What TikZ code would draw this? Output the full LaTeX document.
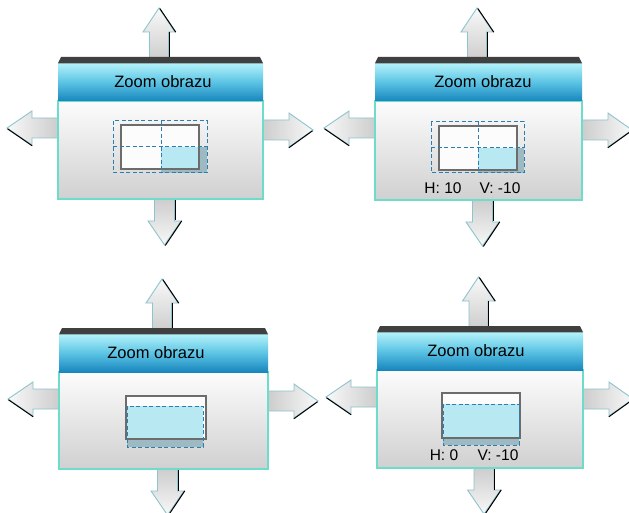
\documentclass[tikz,border=0pt]{standalone}
\usepackage{fontspec}
\setmainfont{Liberation Sans}
\definecolor{hdrtop}{HTML}{B4F2FA}
\definecolor{hdrmid}{HTML}{5CC4E4}
\definecolor{hdrbot}{HTML}{1886BE}
\definecolor{paneledge}{HTML}{6EDCCB}
\definecolor{arredge}{HTML}{8CC4D0}
\definecolor{dashcol}{HTML}{2C7EAE}
\definecolor{lblue}{HTML}{B8E8F2}
\definecolor{dblue}{HTML}{9DB9C2}
\definecolor{barcol}{HTML}{404040}
\tikzset{
  arrline/.style={draw=arredge, line width=0.9pt},
  shadowline/.style={draw=black, line width=1pt},
  panelbody/.style={draw=paneledge, line width=1.2pt, top color=gray!2, bottom color=gray!37},
  header/.style={top color=hdrtop, bottom color=hdrbot, middle color=hdrmid},
  solidbox/.style={draw=gray!85!black, line width=1.4pt},
  dashbox/.style={draw=dashcol, line width=1pt, dash pattern=on 4pt off 2.5pt},
  titletext/.style={font=\fontsize{16.5}{18}\selectfont, text=black},
  valtext/.style={font=\fontsize{15.5}{17}\selectfont, text=black},
}
% up arrow: cx, base y, tip y
\newcommand\uarrow[3]{%
  \path[arrline, top color=gray!5, bottom color=gray!40] (#1-9.5,#2) -- (#1-9.5,#3+24) -- (#1-16,#3+24) -- (#1,#3) -- (#1+16,#3+24) -- (#1+9.5,#3+24) -- (#1+9.5,#2);
  \draw[shadowline] (#1+0.8,#3+0.5) -- (#1+16.8,#3+24.2);
  \draw[shadowline] (#1+10.4,#3+24) -- (#1+10.4,#2);
}
% down arrow: cx, base y, tip y
\newcommand\darrow[3]{%
  \path[arrline, top color=gray!40, bottom color=gray!5] (#1-10,#2) -- (#1-10,#3-24) -- (#1-16.5,#3-24) -- (#1,#3) -- (#1+16.5,#3-24) -- (#1+10,#3-24) -- (#1+10,#2);
  \draw[shadowline] (#1+10.9,#2) -- (#1+10.9,#3-24.5);
  \draw[shadowline] (#1+17.3,#3-24.2) -- (#1+0.8,#3+0.5);
}
% left arrow: tip x, cy, base x
\newcommand\larrow[3]{%
  \path[arrline, left color=gray!5, right color=gray!40] (#3,#2-10) -- (#1+25,#2-10) -- (#1+25,#2-17) -- (#1,#2) -- (#1+25,#2+17) -- (#1+25,#2+10) -- (#3,#2+10);
  \draw[shadowline] (#1+0.5,#2+0.8) -- (#1+25.2,#2+17.8);
}
% right arrow: base x, cy, tip x
\newcommand\rarrow[3]{%
  \path[arrline, left color=gray!40, right color=gray!5] (#1,#2-10) -- (#3-24,#2-10) -- (#3-24,#2-17) -- (#3,#2) -- (#3-24,#2+17) -- (#3-24,#2+10) -- (#1,#2+10);
  \draw[shadowline] (#3-0.5,#2+0.8) -- (#3-24.2,#2+17.8);
}
% panel: name, L, R, T, H (header bottom), B, title x
\newcommand\zpanel[7]{%
  \pgfmathsetmacro\cxt{(#2+#3)/2-1.5}%
  \pgfmathsetmacro\cxb{(#2+#3)/2+4}%
  \uarrow{\cxt}{#4+4}{#4-49}
  \darrow{\cxb}{#6-1}{#6+46}
  \larrow{#2-51}{#5+27}{#2+1}
  \rarrow{#3-1}{#5+29}{#3+50}
  \path[panelbody] (#2,#5) rectangle (#3,#6);
  \path[header] (#2,#4+6) rectangle (#3,#5);
  \fill[barcol] (#2,#4+6.3) -- (#2+3,#4) -- (#3-3,#4) -- (#3,#4+6.3) -- cycle;
  \node[titletext] (#1) at (#7,{(#4+6+#5)/2}) {Zoom obrazu};
}
\begin{document}
\begin{tikzpicture}[x=1pt,y=-1pt]
\clip (0,0) rectangle (629,513);
\fill[white] (0,0) rectangle (629,513);

% ---------- panel 1 ----------
\zpanel{t1}{58}{263}{57}{101}{199}{163}
\fill[white!98!gray] (121,125) rectangle (199,169);
\fill[lblue] (161,147) rectangle (199,169);
\fill[dblue] (199,147) rectangle (207,173);
\fill[dblue] (161,169) rectangle (199,173);
\draw[solidbox] (121,125) rectangle (199,169);
\draw[dashbox] (113,121) rectangle (207,173);
\draw[dashbox] (161,121) -- (161,173);
\draw[dashbox] (113,147) -- (207,147);

% ---------- panel 2 ----------
\zpanel{t2}{375}{582}{57}{101}{200}{483}
\fill[white!98!gray] (439,126) rectangle (517,170);
\fill[lblue] (478,148) rectangle (517,170);
\fill[dblue] (517,148) rectangle (524,173);
\fill[dblue] (478,170) rectangle (517,173);
\draw[solidbox] (439,126) rectangle (517,170);
\draw[dashbox] (431,122) rectangle (524,173);
\draw[dashbox] (478,122) -- (478,173);
\draw[dashbox] (431,148) -- (524,148);
\node[valtext] (h2) at (443,188) {H: 10};
\node[valtext] (v2) at (500,188) {V: -10};

% ---------- panel 3 ----------
\zpanel{t3}{59}{268}{328}{372}{469}{156}
\fill[white!98!gray] (126,396) rectangle (206,439);
\fill[lblue] (127,406) rectangle (203,439);
\fill[dblue] (127,439) rectangle (203,447);
\draw[solidbox] (126,396) rectangle (206,439);
\draw[dashbox] (127,406) rectangle (203,447);

% ---------- panel 4 ----------
\zpanel{t4}{377}{583}{326}{370}{468}{476}
\fill[white!98!gray] (442,393) rectangle (520,438);
\fill[lblue] (443,404) rectangle (519,438);
\fill[dblue] (443,438) rectangle (519,445);
\draw[solidbox] (442,393) rectangle (520,438);
\draw[dashbox] (443,404) rectangle (519,445);
\node[valtext] (h4) at (444,455) {H: 0};
\node[valtext] (v4) at (498,455) {V: -10};
\end{tikzpicture}
\end{document}
